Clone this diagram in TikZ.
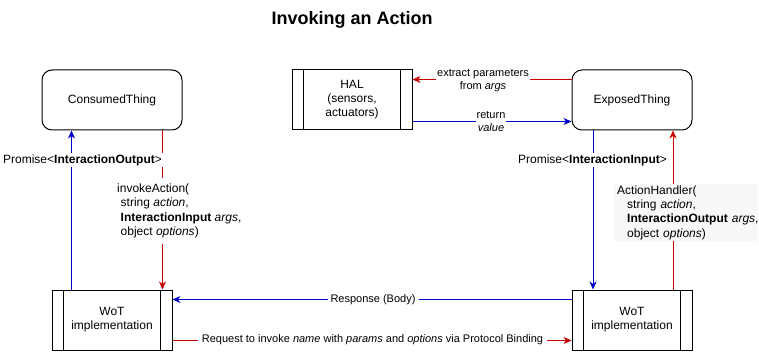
\documentclass[tikz,border=0pt]{standalone}
\usepackage{fontspec}
\setmainfont{Liberation Sans}
\usetikzlibrary{arrows.meta,calc}
\definecolor{callred}{HTML}{CC0000}
\definecolor{backblue}{HTML}{0000CC}
\definecolor{handlerbg}{HTML}{F8F8F8}
\begin{document}
\begin{tikzpicture}[x=1pt,y=-1pt,
  thing/.style={draw=black,line width=1pt,rounded corners=10pt,minimum width=140pt,minimum height=60pt,
    font=\fontsize{12}{14}\selectfont,align=center},
  procbox/.style={draw=black,line width=1pt,minimum width=120pt,minimum height=60pt,
    font=\fontsize{12}{14}\selectfont,align=center},
  redline/.style={draw=callred,line width=1pt,-{Stealth[length=8pt,width=7pt,inset=2.5pt]}},
  blueline/.style={draw=backblue,line width=1pt,-{Stealth[length=8pt,width=7pt,inset=2.5pt]}},
  lbl/.style={fill=white,inner sep=1pt,font=\fontsize{11}{13}\selectfont,align=center},
  promlbl/.style={fill=white,inner sep=1pt,font=\fontsize{12}{14.4}\selectfont},
  biglbl/.style={fill=white,inner xsep=1pt,inner ysep=6pt,font=\fontsize{12}{14.4}\selectfont,align=left,anchor=west},
]
\useasboundingbox (0,0) rectangle (759,352);

% title
\node[font=\fontsize{18}{22}\selectfont\bfseries] (title) at (352,20) {Invoking an Action};

% boxes
\node[thing] (ct) at (112,100) {ConsumedThing};
\node[thing,minimum width=120pt] (et) at (632,100) {ExposedThing};
\node[procbox] (hal) at (352,100) {HAL\\(sensors,\\actuators)};
\node[procbox] (wl) at (112,320) {WoT\\implementation};
\node[procbox] (wr) at (632,320) {WoT\\implementation};

% inner side bars of the process boxes
\foreach \n in {hal,wl,wr}{
  \draw[line width=1pt] ([xshift=12pt]\n.north west) -- ([xshift=12pt]\n.south west);
  \draw[line width=1pt] ([xshift=-12pt]\n.north east) -- ([xshift=-12pt]\n.south east);
}

% consumer side
\draw[blueline] ([xshift=20pt]wl.north west) -- ([xshift=20pt]wl.north west |- ct.south);
\draw[redline] ([xshift=-20pt]ct.south east) -- ([xshift=-20pt]ct.south east |- wl.north);
\node[promlbl] (promout) at (82.5,160) {Promise<\textbf{InteractionOutput}>};
\node[biglbl] (invoke) at (116,211)
  {invokeAction(\\\hspace{3.5pt}string \textit{action},\\\hspace{3.5pt}\textbf{InteractionInput} \textit{args},\\\hspace{3.5pt}object \textit{options})};

% exposer side
\draw[blueline] ([xshift=-39pt]et.south) -- ([xshift=-39pt]et.south |- wr.north);
\draw[redline] ([xshift=41pt]wr.north) -- ([xshift=41pt]wr.north |- et.south);
\node[promlbl] (promin) at (592.5,160) {Promise<\textbf{InteractionInput}>};
\node[biglbl,fill=handlerbg,inner xsep=3pt,inner ysep=1pt,text width=138pt] (handler) at (614,212.5)
  {ActionHandler(\\\hspace{10pt}string \textit{action},\\\hspace{10pt}\makebox[128pt][l]{\textbf{InteractionOutput} \textit{args},}\\\hspace{10pt}object \textit{options})};

% HAL exchange
\draw[redline] ([yshift=-10pt]et.north west) -- ([yshift=-10pt]et.north west -| hal.east);
\node[lbl] (extract) at (483,80.5) {extract parameters\\from \textit{args}};
\draw[blueline] ([yshift=9pt]hal.south east) -- ([yshift=9pt]hal.south east -| et.west);
\node[lbl] (ret) at (491,121.5) {return\\\textit{value}};

% protocol binding
\draw[blueline] ([yshift=-10pt]wr.north west) -- ([yshift=-10pt]wr.north west -| wl.east);
\node[lbl,inner xsep=3pt] (resp) at (373,300) {Response (Body)};
\draw[redline] ([yshift=10pt]wl.south east) -- ([yshift=10pt]wl.south east -| wr.west);
\node[lbl,inner xsep=4pt] (req) at (372.5,340)
  {Request to invoke \textit{name} with \textit{params} and \textit{options} via Protocol Binding};
\end{tikzpicture}
\end{document}
